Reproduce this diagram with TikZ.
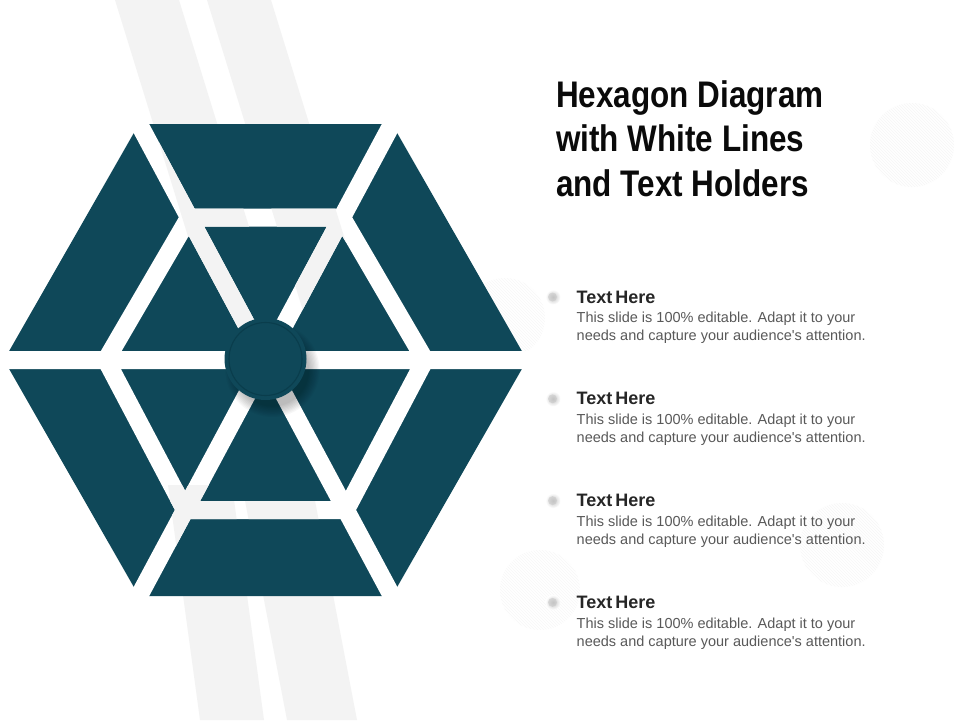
\documentclass[tikz,border=0pt]{standalone}
\usepackage{fontspec}
\setmainfont{Liberation Sans}[Ligatures=TeXOff]
\newfontfamily\titlefont{Liberation Sans}[FakeStretch=0.85]
\usetikzlibrary{calc}
\definecolor{hexteal}{RGB}{15,72,89}
\definecolor{hexring}{RGB}{10,61,76}
\definecolor{bandgray}{RGB}{243,243,243}
\definecolor{hatchgray}{RGB}{247,247,247}
\definecolor{headcol}{RGB}{38,38,38}
\definecolor{bodycol}{RGB}{89,89,89}
\definecolor{titlecol}{RGB}{10,10,10}
\definecolor{dotgray}{RGB}{196,196,196}
\newcommand{\gapseg}[2]{($(#1)!9pt!90:(#2)$) -- ($(#2)!9pt!-90:(#1)$) -- ($(#2)!9pt!90:(#1)$) -- ($(#1)!9pt!-90:(#2)$) -- cycle }
\newcommand{\bandpaths}{%
  \fill[bandgray] (115,0) -- (179,0) -- (284,340) -- (220,340) -- cycle;
  \fill[bandgray] (207,0) -- (271,0) -- (376,340) -- (312,340) -- cycle;
  \fill[bandgray] (200,720) -- (264,720) -- (232,485) -- (168,485) -- cycle;
  \fill[bandgray] (287,720) -- (357,720) -- (312,485) -- (242,485) -- cycle;}
\newcommand{\hatchcircle}[3]{%
  \begin{scope}
    \clip (#1,#2) circle (#3);
    \foreach \k in {-35,...,35}
      \draw[hatchgray, line width=0.7pt] ($(#1,#2)+({\k*3-60},-60)$) -- ++(120,120);
  \end{scope}}
\tikzset{
  titletext/.style={anchor=base west, inner sep=0pt, text=titlecol,
    font=\titlefont\bfseries\fontsize{37}{44}\selectfont},
  headtext/.style={anchor=base west, inner sep=0pt, text=headcol,
    font=\bfseries\fontsize{18}{20}\selectfont},
  bodytext/.style={anchor=base west, inner sep=0pt, text=bodycol,
    font=\fontsize{14.5}{18}\selectfont},
  hubnode/.style={circle, fill=hexteal, minimum size=82pt, inner sep=0pt},
}
\begin{document}
\begin{tikzpicture}[x=1pt, y=-1pt]
  \useasboundingbox (0,0) rectangle (960,720);
  \fill[white] (0,0) rectangle (960,720);

  % faint hatched circles
  \hatchcircle{912}{145}{42}
  \hatchcircle{842}{545}{42}
  \hatchcircle{540}{590}{40}
  \hatchcircle{505}{318}{40}

  % background bands
  \bandpaths

  % hexagon geometry
  \coordinate (C) at (265.5,360);
  \coordinate (L) at (4,360);
  \coordinate (R) at (527,360);
  \coordinate (TL) at (139,124);
  \coordinate (TR) at (392,124);
  \coordinate (BL) at (139,596);
  \coordinate (BR) at (392,596);
  \coordinate (iL) at (106,360);
  \coordinate (iR) at (425,360);
  \coordinate (iTL) at (189.1,217.5);
  \coordinate (iTR) at (341.9,217.5);
  \coordinate (iBL) at (185.1,510);
  \coordinate (iBR) at (345.9,510);
  \coordinate (hA) at (-20,360);
  \coordinate (hB) at (560,360);
  \coordinate (d1A) at ($(C)!1.15!(TL)$);
  \coordinate (d1B) at ($(C)!1.15!(BR)$);
  \coordinate (d2A) at ($(C)!1.15!(TR)$);
  \coordinate (d2B) at ($(C)!1.15!(BL)$);

  \fill[hexteal] (L) -- (TL) -- (TR) -- (R) -- (BR) -- (BL) -- cycle;

  % white gaps (showing background bands)
  \begin{scope}
    \clip \gapseg{hA}{hB} \gapseg{d1A}{d1B} \gapseg{d2A}{d2B}
          \gapseg{iL}{iTL} \gapseg{iTL}{iTR} \gapseg{iTR}{iR}
          \gapseg{iR}{iBR} \gapseg{iBR}{iBL} \gapseg{iBL}{iL};
    \fill[white] (-50,-50) rectangle (600,780);
    \bandpaths
  \end{scope}

  % hub shadow
  \foreach \i in {0,...,8}
    \fill[black, opacity=0.03] ($(C)+(7,10)$) circle ({47-\i*1.3});

  % hub
  \node[hubnode] (hub) at (265.5,359) {};
  \draw[hexring, line width=1.1pt] (hub.center) circle (36.5);

  % title
  \node[titletext] (title1) at (556,107) {Hexagon Diagram};
  \node[titletext] (title2) at (556,151.5) {with White Lines};
  \node[titletext] (title3) at (556,196) {and Text Holders};

  % items
  \foreach \n/\y in {1/303, 2/404.8, 3/506.6, 4/608.4}{
    \shade[inner color=dotgray, outer color=white] (553,{\y-6}) circle (7.5);
    \fill[dotgray, opacity=0.5] (552.5,{\y-6}) circle (4.5);
    \node[headtext] (head\n) at (576.5,\y) {{\spaceskip=0.17em Text Here}};
    \node[bodytext] (bodya\n) at (576.5,{\y+19.7}) {This slide is 100\% editable. Adapt it to your};
    \node[bodytext] (bodyb\n) at (576.5,{\y+37.7}) {needs and capture your audience's attention.};
  }
\end{tikzpicture}
\end{document}
